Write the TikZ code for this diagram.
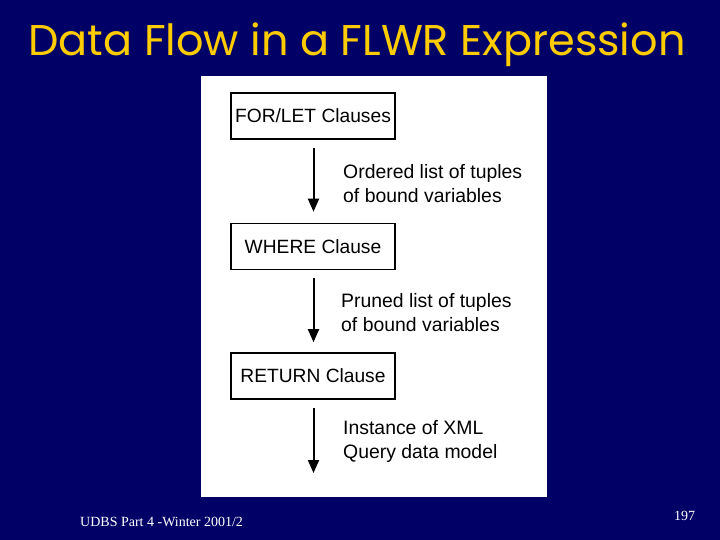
\documentclass[tikz,border=0pt]{standalone}
\usepackage{fontspec}
\setmainfont{Liberation Sans}
\newfontfamily\titlefont{Poppins}
\newfontfamily\footfont{Liberation Serif}
\usetikzlibrary{arrows.meta}
\definecolor{navy}{RGB}{0,0,102}
\definecolor{titleyellow}{RGB}{255,204,0}
\tikzset{
  clausebox/.style={draw=black, line width=1.6pt, fill=white, minimum width=164pt, minimum height=46pt, inner sep=0pt, font=\fontsize{19.2}{24}\selectfont},
  flowarrow/.style={line width=2pt, -{Triangle[width=11pt,length=13pt]}},
  flowlabel/.style={anchor=west, inner sep=0pt, align=left, font=\fontsize{19.4}{24}\selectfont}
}
\begin{document}
\begin{tikzpicture}[x=1pt,y=-1pt]
\fill[navy] (0,0) rectangle (720,540);
\useasboundingbox (0,0) rectangle (720,540);
\node[font=\titlefont\fontsize{43}{48}\selectfont, text=titleyellow, inner sep=0pt] (title) at (357,45) {Data Flow in a FLWR Expression};
\fill[white] (201,76) rectangle (547,497);
\node[clausebox] (for) at (313,116) {FOR/LET Clauses};
\node[clausebox] (where) at (313,246.5) {WHERE Clause};
\node[clausebox] (ret) at (313,376) {RETURN Clause};
\coordinate (out) at (313.5,473);
\draw[flowarrow] ([xshift=0.5pt,yshift=-8pt]for.south) -- ([xshift=0.5pt,yshift=11pt]where.north);
\draw[flowarrow] ([xshift=0.5pt,yshift=-8pt]where.south) -- ([xshift=0.5pt,yshift=10pt]ret.north);
\draw[flowarrow] ([xshift=0.5pt,yshift=-8pt]ret.south) -- (out);
\node[flowlabel] (l1) at (343,184) {Ordered list of tuples\\of bound variables};
\node[flowlabel] (l2) at (341,313) {Pruned list of tuples\\of bound variables};
\node[flowlabel] (l3) at (343,441) {Instance of XML\\Query data model};
\node[font=\footfont\fontsize{14}{16}\selectfont, text=white, anchor=west, inner sep=0pt] (foot) at (80,522) {UDBS Part 4 -Winter 2001/2};
\node[font=\footfont\fontsize{14}{16}\selectfont, text=white, inner sep=0pt] (page) at (684.5,516) {197};
\end{tikzpicture}
\end{document}
